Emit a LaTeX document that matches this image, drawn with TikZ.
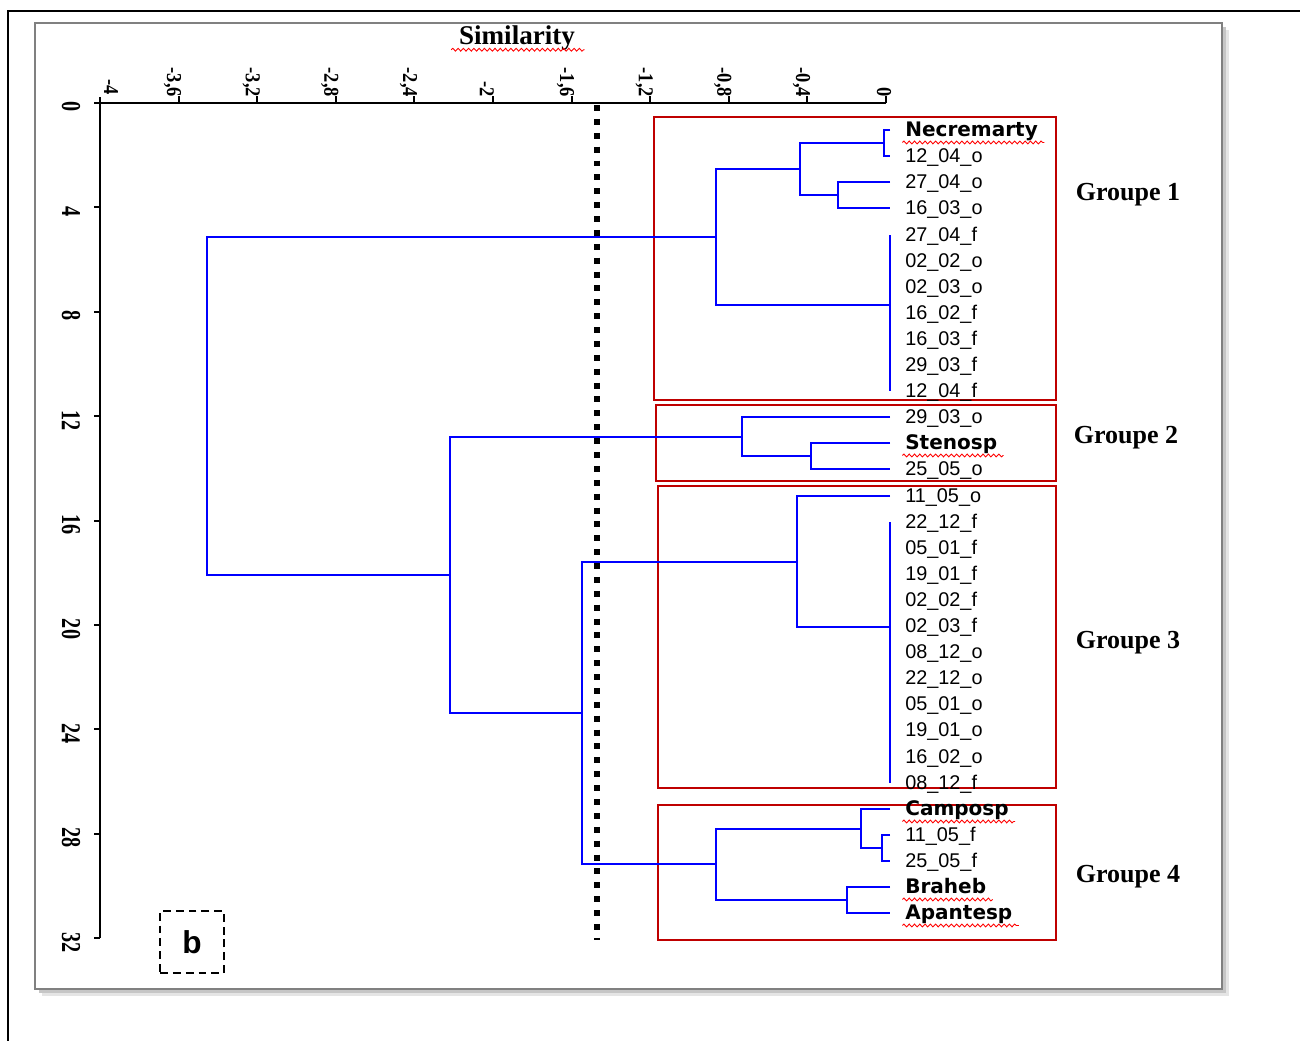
\documentclass[tikz,border=0pt]{standalone}
\usepackage{fontspec}
\setmainfont{Liberation Serif}
\newfontfamily\leaffont{Liberation Sans}
\newfontfamily\spfont{DejaVu Sans}
\usetikzlibrary{decorations.pathmorphing}

\begin{document}
\begin{tikzpicture}[
  x=0.02cm,y=-0.02cm,
  leaf/.style={anchor=west,inner xsep=8.5pt,inner ysep=0pt,text height=8.4pt,text depth=1pt,
    font=\leaffont\fontsize{11.3}{13}\selectfont},
  spec/.style={leaf,font=\spfont\bfseries\fontsize{11.4}{13}\selectfont},
  branch/.style={draw=blue,line width=1.1pt},
  grpbox/.style={draw=red!75!black,line width=1.2pt},
  grplab/.style={font=\bfseries\fontsize{14.8}{17}\selectfont},
  axis/.style={line width=1.1pt},
  xlab/.style={rotate=-90,yscale=1.15,anchor=east,inner sep=1pt,font=\bfseries\fontsize{10.5}{12}\selectfont},
  ylab/.style={rotate=-90,yscale=1.35,inner sep=0pt,font=\bfseries\fontsize{11.5}{12}\selectfont},
  cut/.style={line width=3.4pt,dash pattern=on 3.4pt off 4.5pt},
  spell/.style={draw=red,line width=0.5pt,decorate,decoration={snake,amplitude=0.8pt,segment length=3pt}},
  tagbox/.style={draw,line width=1.1pt,dash pattern=on 4.5pt off 2.8pt,minimum width=36.3pt,
    minimum height=35.7pt,font=\leaffont\bfseries\fontsize{18}{20}\selectfont}
]
  \useasboundingbox (0,0) rectangle (1300,1041);
  % frames
  \draw[line width=1.2pt] (1300,11) -- (8,11) -- (8,1041);
  \fill[gray!20] (42,30) rectangle (1229,996);
  \fill[gray!45] (39,27) rectangle (1226,993);
  \draw[gray,line width=0.8pt,fill=white] (35,23) rectangle (1222,989);

  % axes
  \coordinate (O) at (100,103);
  \coordinate (XE) at (886,103);
  \coordinate (YE) at (100,938);
  \draw[axis] (100,97) -- (O) -- (XE);
  \draw[axis] (O) -- (YE);
  \foreach \x/\t in {178.6/{-3,6},257.2/{-3,2},335.8/{-2,8},414.4/{-2,4},493/-2,
                     571.6/{-1,6},650.2/{-1,2},728.8/{-0,8},807.4/{-0,4}}{
    \draw[axis] (\x,96) -- (\x,103);
    \node[xlab] at (\x-6,99) {\t};
  }
  \draw[axis] (886,96) -- (XE);
  \node[xlab] at (111,97) {-4};
  \node[xlab] at (884,99) {0};
  \foreach \v in {0,4,...,32}{
    \draw[axis] (94,103+26.1*\v) -- (100,103+26.1*\v);
    \node[ylab] at (71,107+26.1*\v) {\v};
  }
  \node[font=\bfseries\fontsize{15.4}{18}\selectfont] (sim) at (517,38) {Similarity};
  \draw[spell] ([xshift=-1pt,yshift=-3pt]sim.base west) -- ([xshift=2pt,yshift=-3pt]sim.base east);

  % group boxes
  \draw[grpbox] (654,117) rectangle (1056,400);
  \draw[grpbox] (656,405) rectangle (1056,481);
  \draw[grpbox] (658,486) rectangle (1056,788);
  \draw[grpbox] (658,805) rectangle (1056,940);
  \node[grplab] (G1) at (1128,195) {Groupe 1};
  \node[grplab] (G2) at (1126,438) {Groupe 2};
  \node[grplab] (G3) at (1128,643) {Groupe 3};
  \node[grplab] (G4) at (1128,877) {Groupe 4};

  % leaves
  \node[spec] (L1) at (890,130) {Necremarty};
  \node[leaf] (L2) at (890,156) {12\_04\_o};
  \node[leaf] (L3) at (890,182) {27\_04\_o};
  \node[leaf] (L4) at (890,208) {16\_03\_o};
  \node[leaf] (L5) at (890,235) {27\_04\_f};
  \node[leaf] (L6) at (890,261) {02\_02\_o};
  \node[leaf] (L7) at (890,287) {02\_03\_o};
  \node[leaf] (L8) at (890,313) {16\_02\_f};
  \node[leaf] (L9) at (890,339) {16\_03\_f};
  \node[leaf] (L10) at (890,365) {29\_03\_f};
  \node[leaf] (L11) at (890,391) {12\_04\_f};
  \node[leaf] (L12) at (890,417) {29\_03\_o};
  \node[spec] (L13) at (890,443) {Stenosp};
  \node[leaf] (L14) at (890,469) {25\_05\_o};
  \node[leaf] (L15) at (890,496) {11\_05\_o};
  \node[leaf] (L16) at (890,522) {22\_12\_f};
  \node[leaf] (L17) at (890,548) {05\_01\_f};
  \node[leaf] (L18) at (890,574) {19\_01\_f};
  \node[leaf] (L19) at (890,600) {02\_02\_f};
  \node[leaf] (L20) at (890,626) {02\_03\_f};
  \node[leaf] (L21) at (890,652) {08\_12\_o};
  \node[leaf] (L22) at (890,678) {22\_12\_o};
  \node[leaf] (L23) at (890,704) {05\_01\_o};
  \node[leaf] (L24) at (890,730) {19\_01\_o};
  \node[leaf] (L25) at (890,757) {16\_02\_o};
  \node[leaf] (L26) at (890,783) {08\_12\_f};
  \node[spec] (L27) at (890,809) {Camposp};
  \node[leaf] (L28) at (890,835) {11\_05\_f};
  \node[leaf] (L29) at (890,861) {25\_05\_f};
  \node[spec] (L30) at (890,887) {Braheb};
  \node[spec] (L31) at (890,913) {Apantesp};
  \foreach \s in {L1,L13,L27,L30,L31}
    \draw[spell] ([xshift=7pt,yshift=-3.4pt]\s.base west) -- ([xshift=-5pt,yshift=-3.4pt]\s.base east);

  % merge points
  \coordinate (M1) at (884,143);
  \coordinate (M2) at (838,195);
  \coordinate (M3) at (800,169);
  \coordinate (M4) at (890,305);
  \coordinate (M5) at (716,237);
  \coordinate (M6) at (811,456);
  \coordinate (M7) at (742,437);
  \coordinate (M8) at (890,627);
  \coordinate (M9) at (797,562);
  \coordinate (M10) at (882,848);
  \coordinate (M11) at (861,829);
  \coordinate (M12) at (847,900);
  \coordinate (M13) at (716,864);
  \coordinate (M14) at (582,713);
  \coordinate (M15) at (450,575);
  \coordinate (M16) at (207,406);

  \draw[branch] (L1.west) -| (M1) |- (L2.west);
  \draw[branch] (L3.west) -| (M2) |- (L4.west);
  \draw[branch] (M1) -| (M3) |- (M2);
  \draw[branch] (L5.west) -- (L11.west);
  \draw[branch] (M3) -| (M5) |- (M4);
  \draw[branch] (L13.west) -| (M6) |- (L14.west);
  \draw[branch] (L12.west) -| (M7) |- (M6);
  \draw[branch] (L16.west) -- (L26.west);
  \draw[branch] (L15.west) -| (M9) |- (M8);
  \draw[branch] (L28.west) -| (M10) |- (L29.west);
  \draw[branch] (L27.west) -| (M11) |- (M10);
  \draw[branch] (L30.west) -| (M12) |- (L31.west);
  \draw[branch] (M11) -| (M13) |- (M12);
  \draw[branch] (M9) -| (M14) |- (M13);
  \draw[branch] (M7) -| (M15) |- (M14);
  \draw[branch] (M5) -| (M16) |- (M15);

  % cut level
  \coordinate (C1) at (597,105);
  \coordinate (C2) at (597,940);
  \draw[cut] (C1) -- (C2);

  \node[tagbox] (tag) at (192,942) {b};
\end{tikzpicture}
\end{document}
